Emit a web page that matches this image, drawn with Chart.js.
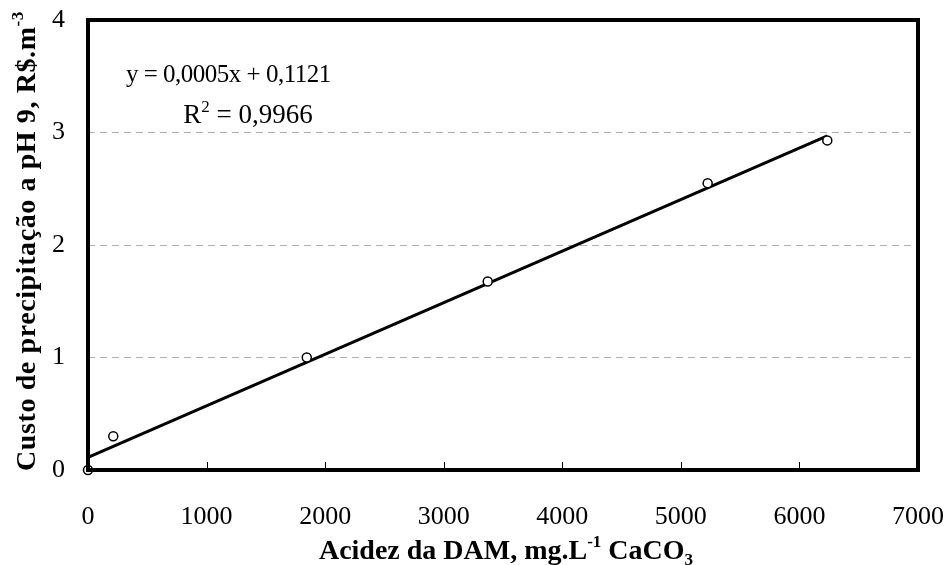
<!DOCTYPE html>
<html>
<head>
<meta charset="utf-8">
<script src="https://cdn.jsdelivr.net/npm/chart.js@4.4.1/dist/chart.umd.min.js"></script>
<style>
    html, body { margin: 0; padding: 0; background: #fff; }
    #wrap { width: 949px; height: 565px; }
</style>
</head>
<body>
<div id="wrap"><canvas id="chart"></canvas></div>
<script>
// Data
const acidez = [0, 213, 1845, 3371, 5226, 6235];
const custo = [0, 0.30, 1.00, 1.675, 2.55, 2.93];
const trendX = [0, 6235];
const trendY = [0.112, 2.97];
const xTicks = [0, 1000, 2000, 3000, 4000, 5000, 6000, 7000];
const yTicks = [0, 1, 2, 3, 4];

const SERIF = '"Liberation Serif", "Times New Roman", serif';

// draw text with superscript / subscript pieces, centred on the origin
function drawRich(ctx, parts, size, bold, spacing) {
    const w = bold ? 'bold ' : '';
    ctx.letterSpacing = (spacing || 0) + 'px';
    let total = 0;
    parts.forEach(p => {
        const small = typeof p !== 'string';
        ctx.font = w + (small ? Math.round(size * 0.62) : size) + 'px ' + SERIF;
        total += ctx.measureText(small ? (p.sup || p.sub) : p).width;
    });
    let x = -total / 2;
    parts.forEach(p => {
        const small = typeof p !== 'string';
        ctx.font = w + (small ? Math.round(size * 0.62) : size) + 'px ' + SERIF;
        const t = small ? (p.sup || p.sub) : p;
        let dy = 0;
        if (small && p.sup) dy = -size * 0.42;
        if (small && p.sub) dy = size * 0.2;
        ctx.fillText(t, x, dy);
        x += ctx.measureText(t).width;
    });
    ctx.letterSpacing = '0px';
}

const framePlugin = {
    id: 'frame',
    afterDatasetsDraw(chart) {
        const { ctx, chartArea: a, scales } = chart;
        ctx.save();
        // inward ticks on x axis
        ctx.strokeStyle = '#000';
        ctx.lineWidth = 1;
        xTicks.forEach(v => {
            const px = Math.round(scales.x.getPixelForValue(v)) + 0.5;
            ctx.beginPath();
            ctx.moveTo(px, a.bottom);
            ctx.lineTo(px, a.bottom - 8);
            ctx.stroke();
        });
        // box
        ctx.lineWidth = 4;
        ctx.strokeRect(a.left, a.top, a.right - a.left, a.bottom - a.top);
        ctx.restore();
    },
    afterDraw(chart) {
        const { ctx, chartArea: a } = chart;
        ctx.save();
        ctx.fillStyle = '#000';
        ctx.textBaseline = 'alphabetic';
        // x title
        ctx.save();
        ctx.translate((a.left + a.right) / 2 + 3, 559);
        drawRich(ctx, ['Acidez da DAM, mg.L', { sup: '-1' }, ' CaCO', { sub: '3' }], 28, true, 0);
        ctx.restore();
        // y title
        ctx.save();
        ctx.translate(35, (a.top + a.bottom) / 2 - 4);
        ctx.rotate(-Math.PI / 2);
        drawRich(ctx, ['Custo de precipitação a pH 9, R$.m', { sup: '-3' }], 28, true, 0.6);
        ctx.restore();
        // equation
        ctx.font = '25px ' + SERIF;
        ctx.textAlign = 'left';
        ctx.letterSpacing = '-0.5px';
        ctx.fillText('y = 0,0005x + 0,1121', 126, 82);
        ctx.letterSpacing = '0px';
        ctx.save();
        ctx.translate(248, 123);
        drawRich(ctx, ['R', { sup: '2' }, ' = 0,9966'], 27, false, 0);
        ctx.restore();
        ctx.restore();
    }
};

const ctx = document.getElementById('chart');

new Chart(ctx, {
    type: 'scatter',
    data: {
        datasets: [
            {
                label: 'pontos',
                data: acidez.map((x, i) => ({ x: x, y: custo[i] })),
                pointStyle: 'circle',
                pointRadius: 4.5,
                pointBorderWidth: 1.5,
                pointBackgroundColor: '#fff',
                pointBorderColor: '#000',
                showLine: false,
                clip: false,
                order: 0
            },
            {
                label: 'tendência',
                data: trendX.map((x, i) => ({ x: x, y: trendY[i] })),
                showLine: true,
                borderColor: '#000',
                borderWidth: 3,
                pointRadius: 0,
                order: 1
            }
        ]
    },
    options: {
        responsive: true,
        maintainAspectRatio: false,
        animation: false,
        layout: { padding: { top: 20, right: 31, bottom: 0, left: 0 } },
        scales: {
            x: {
                type: 'linear',
                min: 0,
                max: 7000,
                afterFit: s => {
                    s.height = 95;
                    s.paddingLeft = 0;
                    s.paddingRight = 0;
                },
                afterBuildTicks: s => { s.ticks = xTicks.map(v => ({ value: v })); },
                grid: { display: false, drawTicks: false },
                border: { display: false },
                ticks: {
                    padding: 32,
                    color: '#000',
                    font: { family: SERIF, size: 26 },
                    maxRotation: 0,
                    callback: v => String(v)
                }
            },
            y: {
                type: 'linear',
                min: 0,
                max: 4,
                afterFit: s => {
                    s.width = 88;
                    s.paddingTop = 0;
                    s.paddingBottom = 0;
                },
                afterBuildTicks: s => { s.ticks = yTicks.map(v => ({ value: v })); },
                grid: {
                    drawTicks: false,
                    lineWidth: 1,
                    color: c => (c.tick && (c.tick.value === 0 || c.tick.value === 4)) ? 'rgba(0,0,0,0)' : '#b0b0b0'
                },
                border: { display: false, dash: [7, 5] },
                ticks: {
                    padding: 23,
                    color: '#000',
                    font: { family: SERIF, size: 26 },
                    callback: v => String(v)
                }
            }
        },
        plugins: {
            legend: { display: false },
            tooltip: { enabled: false }
        }
    },
    plugins: [framePlugin]
});
</script>
</body>
</html>
